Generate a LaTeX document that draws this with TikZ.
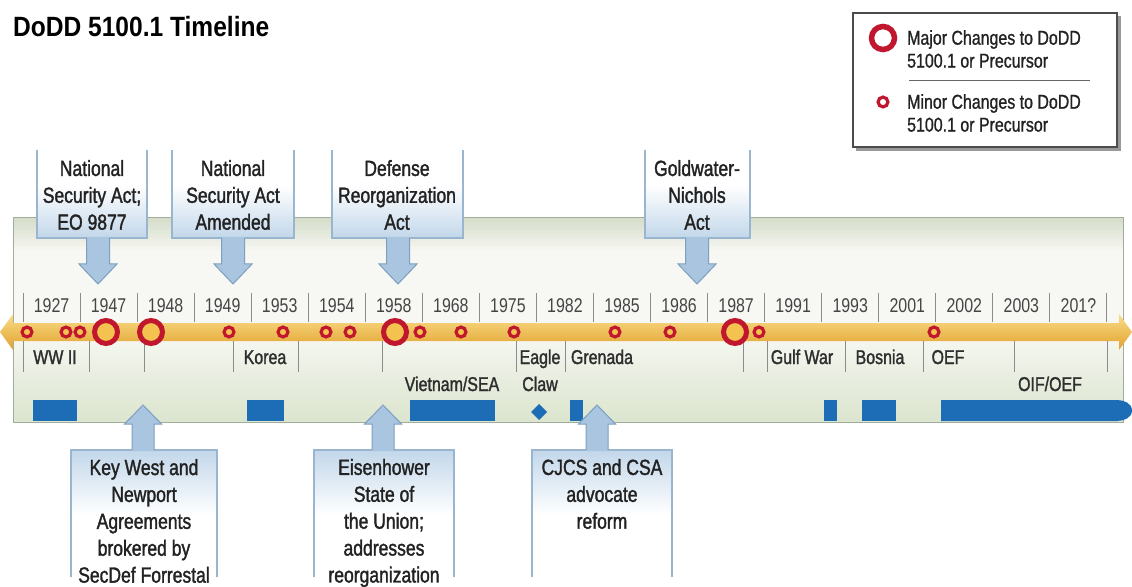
\documentclass[tikz,border=0pt]{standalone}
\usepackage{fontspec}
\setmainfont{Liberation Sans}[FakeStretch=0.8]
\newfontfamily\medfont{Liberation Sans}[FakeStretch=0.8, FakeBold=1.5]
\newfontfamily\legfont{Liberation Sans}[FakeStretch=0.8, FakeBold=1.0]
\newfontfamily\titlefont{Liberation Sans}[FakeStretch=0.88]
\definecolor{ringred}{HTML}{C0172E}
\definecolor{gold}{HTML}{F3C24F}
\definecolor{goldlight}{HTML}{F9DD8A}
\definecolor{golddark}{HTML}{E2A12C}
\definecolor{warblue}{HTML}{1C6DB5}
\definecolor{paneltop}{HTML}{D6DECB}
\definecolor{panellight}{HTML}{F7F8F3}
\definecolor{panelbottom}{HTML}{DCE5CF}
\definecolor{panelborder}{HTML}{A3AB9C}
\definecolor{calloutblue}{HTML}{C2D7EA}
\definecolor{arrowblue}{HTML}{A9C5DF}
\definecolor{arrowedge}{HTML}{7E9FBF}
\definecolor{boxedge}{HTML}{9AB6CF}
\definecolor{txt}{HTML}{222222}
\definecolor{yeartxt}{HTML}{444444}
\definecolor{wartxt}{HTML}{2E2E2E}
\definecolor{sepgrey}{HTML}{8C8C8C}
\tikzset{
  majorring/.style={draw=ringred, line width=5bp, fill=gold},
  minorring/.style={draw=ringred, line width=3.2bp, fill=gold},
  yearlbl/.style={font=\fontsize{20}{22}\selectfont, text=yeartxt, inner sep=0pt},
  warlbl/.style={font=\medfont\fontsize{20}{22}\selectfont, text=wartxt, inner sep=0pt, anchor=base},
  calltext/.style={font=\medfont\fontsize{22}{27}\selectfont, align=center, text=txt, inner sep=0pt},
  legtext/.style={font=\legfont\fontsize{20}{23}\selectfont, align=left, text=txt, inner sep=0pt, anchor=west},
  sepline/.style={draw=sepgrey, line width=1bp},
  boxside/.style={draw=boxedge, line width=1.2bp},
  callarrow/.style={fill=arrowblue},
  callarrowedge/.style={draw=arrowedge, line width=1bp},
}
\begin{document}
\begin{tikzpicture}[x=1bp,y=-1bp]
\useasboundingbox (0,0) rectangle (1132,587);
\fill[white] (0,0) rectangle (1132,587);

% title
\node[anchor=base west, inner sep=0pt, font=\titlefont\bfseries\fontsize{28}{30}\selectfont, text=black] (title) at (13,37) {DoDD 5100.1 Timeline};

% legend
\fill[black!40] (856,16) rectangle (1121,151);
\draw[draw=black!70, fill=white, line width=1.2bp] (853,13) rectangle (1117,147);
\draw[draw=ringred, line width=5.5bp] (883,38) circle[radius=11.5];
\draw[draw=ringred, line width=3.2bp] (883,102) circle[radius=4.9];
\node[legtext] (legmajor) at (907,49) {Major Changes to DoDD\\5100.1 or Precursor};
\draw[draw=black!60, line width=0.8bp] (909,80) -- (1090,80);
\node[legtext] (legminor) at (907,113) {Minor Changes to DoDD\\5100.1 or Precursor};

% panel (gradient built from strips)
\foreach \i in {0,...,50}{
  \pgfmathsetmacro{\yy}{218+4*\i}
  \pgfmathsetmacro{\pa}{\i<8 ? 100*\i/8 : (\i<28 ? 100 : 100-100*(\i-28)/22)}
  \ifnum\i<28
    \fill[panellight!\pa!paneltop] (13,\yy) rectangle (1123,{\yy+4.3});
  \else
    \fill[panellight!\pa!panelbottom] (13,\yy) rectangle (1123,{\yy+4.3});
  \fi
}
\draw[draw=panelborder, line width=1bp] (13,218) rectangle (1123,422);

% year separators and labels
\foreach \k in {0,...,19} \draw[sepline] ({23+57.05*\k},293) -- ({23+57.05*\k},322);
\foreach \yr [count=\k from 0] in {1927,1947,1948,1949,1953,1954,1958,1968,1975,1982,1985,1986,1987,1991,1993,2001,2002,2003,201?}
  \node[yearlbl] (yr\k) at ({23+57.05*(\k+0.5)},306) {\yr};

% lower separators
\foreach \x in {23,89,144,233,298,382,516,565,743,767,845,923,1014,1107}
  \draw[sepline] (\x,341) -- (\x,372);

% gold timeline bar
\path[top color=goldlight, middle color=gold, bottom color=golddark]
  (0,332) -- (13,314) -- (13,323) -- (1119,323) -- (1119,314) -- (1132,332)
  -- (1119,350) -- (1119,341) -- (13,341) -- (13,350) -- cycle;

% change rings
\foreach \x in {27,66,80,229,283,326,350,420,461,514,615,670,759,934}
  \draw[minorring] (\x,332) circle[radius=4.9];
\foreach \x in {106,151,395,735}
  \draw[majorring] (\x,332) circle[radius=11.5];

% conflict labels
\node[warlbl] (ww2) at (55,364) {WW II};
\node[warlbl] (korea) at (265,364) {Korea};
\node[warlbl] (viet) at (452,391) {Vietnam/SEA};
\node[warlbl] (eagle) at (540,364) {Eagle};
\node[warlbl] (claw) at (540,391) {Claw};
\node[warlbl] (grenada) at (602,364) {Grenada};
\node[warlbl] (gulf) at (802,364) {Gulf War};
\node[warlbl] (bosnia) at (880,364) {Bosnia};
\node[warlbl] (oef) at (948,364) {OEF};
\node[warlbl] (oif) at (1050,391) {OIF/OEF};

% conflict bars
\fill[warblue] (33,400) rectangle (77,421);
\fill[warblue] (247,400) rectangle (284,421);
\fill[warblue] (410,400) rectangle (495,421);
\fill[warblue] (539,404) -- (547,412) -- (539,420) -- (531,412) -- cycle;
\fill[warblue] (570,400) rectangle (583,421);
\fill[warblue] (824,400) rectangle (837,421);
\fill[warblue] (862,400) rectangle (896,421);
\fill[warblue] (941,400) -- (1117,400) to[out=0,in=90] (1132,410.5) to[out=-90,in=0] (1117,421) -- (941,421) -- cycle;

% top callout boxes
\foreach \xa/\xb in {37/147,172/294,332/463,645/750}{
  \fill[white] (\xa,150) rectangle (\xb,238);
  \fill[top color=white, bottom color=calloutblue] (\xa,185) rectangle (\xb,238);
  \draw[boxside] (\xa,150) -- (\xa,238) -- (\xb,238) -- (\xb,150);
}
\foreach \c in {98,233,398,697}{
  \fill[callarrow] ({\c-11.5},237) -- ({\c-11.5},264) -- ({\c-19},264) -- (\c,284) -- ({\c+19},264) -- ({\c+11.5},264) -- ({\c+11.5},237) -- cycle;
  \draw[callarrowedge] ({\c-11.5},238) -- ({\c-11.5},264) -- ({\c-19},264) -- (\c,284) -- ({\c+19},264) -- ({\c+11.5},264) -- ({\c+11.5},238);
}
\node[calltext] (top1) at (92,195) {National\\Security Act;\\EO 9877};
\node[calltext] (top2) at (233,195) {National\\Security Act\\Amended};
\node[calltext] (top3) at (397,195) {Defense\\Reorganization\\Act};
\node[calltext] (top4) at (697,195) {Goldwater-\\Nichols\\Act};

% bottom callout boxes
\foreach \xa/\xb in {71/217,314/454,532/672}{
  \fill[top color=calloutblue, bottom color=white] (\xa,450) rectangle (\xb,515);
  \draw[boxside] (\xa,577) -- (\xa,450) -- (\xb,450) -- (\xb,577);
}
\foreach \c in {143,383,597}{
  \fill[callarrow] ({\c-11},451) -- ({\c-11},424) -- ({\c-18.5},424) -- (\c,405) -- ({\c+18.5},424) -- ({\c+11},424) -- ({\c+11},451) -- cycle;
  \draw[callarrowedge] ({\c-11},450) -- ({\c-11},424) -- ({\c-18.5},424) -- (\c,405) -- ({\c+18.5},424) -- ({\c+11},424) -- ({\c+11},450);
}
\node[calltext] (bot1) at (144,521) {Key West and\\Newport\\Agreements\\brokered by\\SecDef Forrestal};
\node[calltext] (bot2) at (384,523) {Eisenhower\\State of\\the Union;\\addresses\\reorganization};
\node[calltext] (bot3) at (602,494) {CJCS and CSA\\advocate\\reform};
\end{tikzpicture}
\end{document}
